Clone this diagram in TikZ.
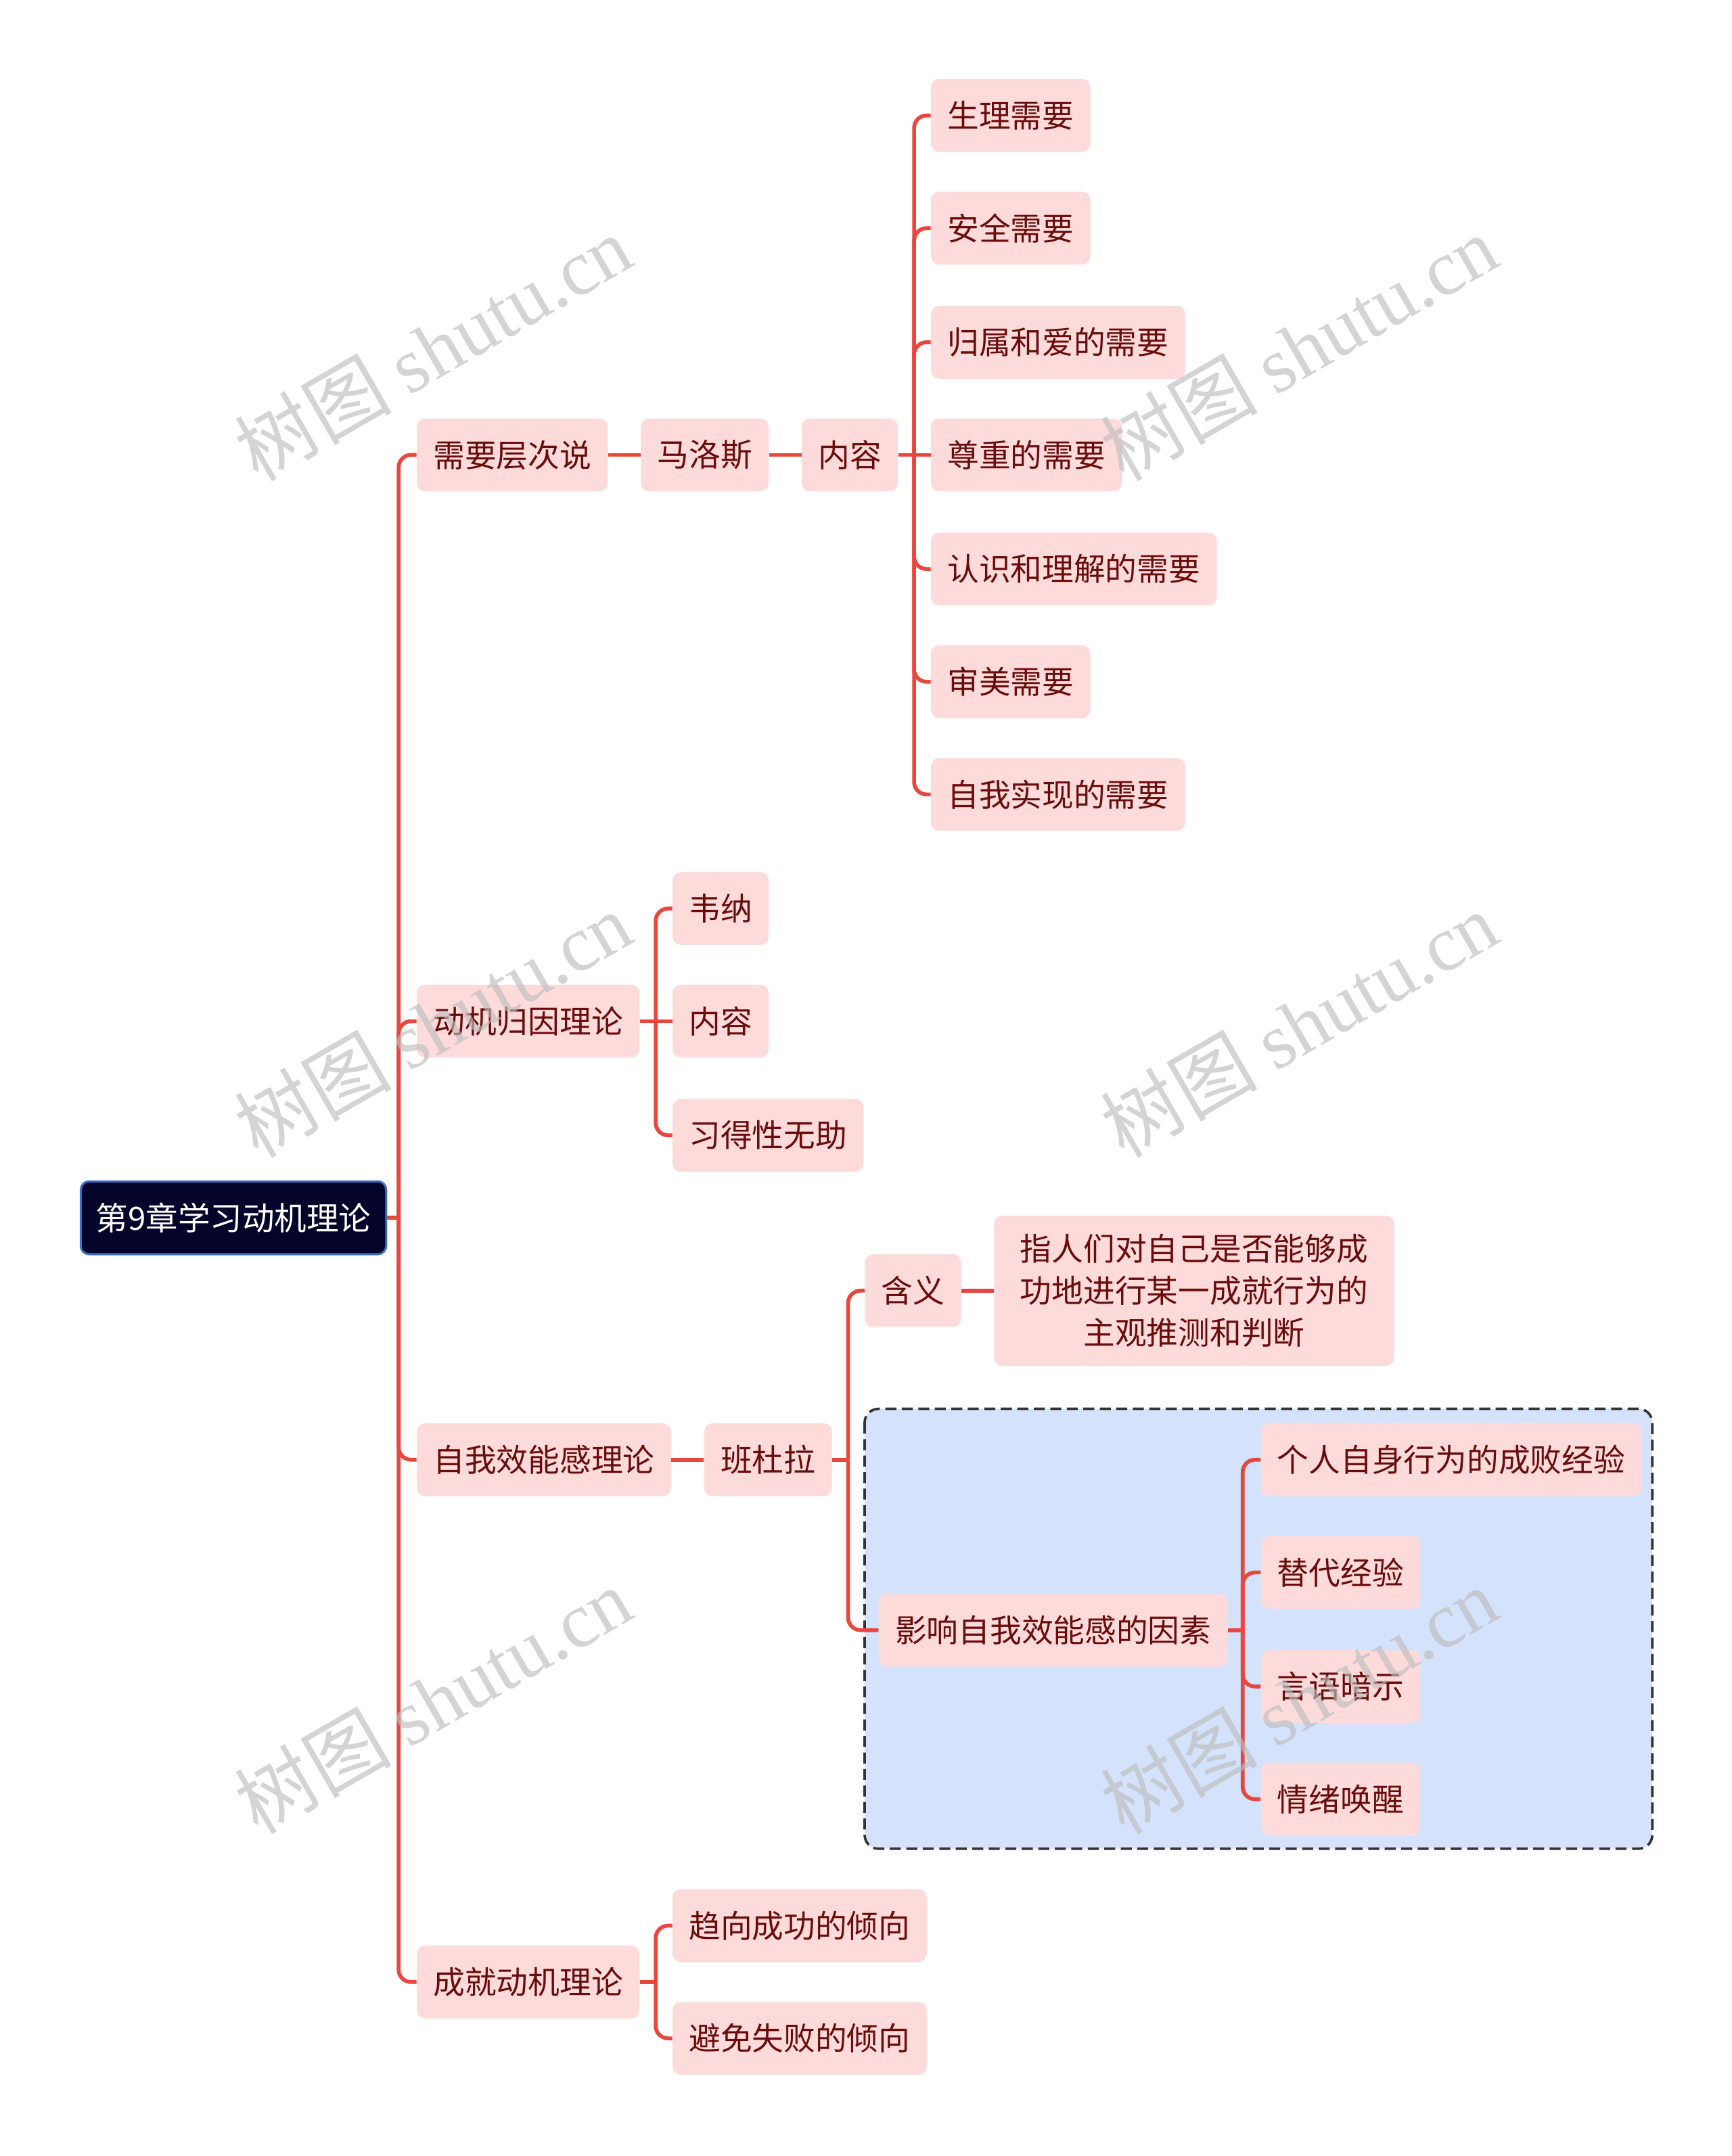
\documentclass[tikz,border=0pt]{standalone}
\usepackage{fontspec}
\setmainfont{Noto Sans CJK SC}
\newfontfamily\wmlatin{Liberation Serif}
\usetikzlibrary{calc}
\definecolor{pinkfill}{HTML}{FDDBDB}
\definecolor{txtred}{HTML}{6A0C0C}
\definecolor{linkred}{HTML}{E8473E}
\definecolor{rootfill}{HTML}{04042A}
\definecolor{rootdraw}{HTML}{3D6FC6}
\definecolor{boxblue}{HTML}{D4E3FB}
\definecolor{boxdraw}{HTML}{333333}
\definecolor{wmgray}{HTML}{BDBDBD}
\tikzset{
  leaf/.style={fill=pinkfill, text=txtred, rounded corners=6pt, minimum height=53pt,
    inner xsep=12pt, inner ysep=0pt, anchor=west, font=\fontsize{23}{27}\selectfont},
  rootnode/.style={fill=rootfill, draw=rootdraw, line width=1.5pt, text=white, rounded corners=6pt,
    minimum height=53pt, inner xsep=11pt, inner ysep=0pt, anchor=west, font=\fontsize{23.4}{28}\selectfont},
  link/.style={draw=linkred, line width=2.8pt},
  elbow/.style={link, rounded corners=9pt},
  groupbox/.style={fill=boxblue, draw=boxdraw, line width=1.8pt, dash pattern=on 8pt off 4pt, rounded corners=10pt},
  wm/.style={text=wmgray, opacity=0.65, rotate=30, font=\fontsize{57}{60}\selectfont}
}
\newcommand{\wmtext}{树图 {\wmlatin shutu.cn}}
\begin{document}
\begin{tikzpicture}[x=1pt,y=-1pt]
\useasboundingbox (0,0) rectangle (1260,1568.6);

% dashed group box
\path[groupbox] (629,1025) rectangle (1202,1345);

% root
\node[rootnode] (root) at (58,886) {第9章学习动机理论};

% level 1
\node[leaf] (a) at (303,331) {需要层次说};
\node[leaf] (b) at (303,743) {动机归因理论};
\node[leaf] (c) at (303,1062) {自我效能感理论};
\node[leaf] (d) at (303,1442) {成就动机理论};

% branch a
\node[leaf] (a1) at (466,331) {马洛斯};
\node[leaf] (a2) at (583,331) {内容};
\node[leaf] (a21) at (677,84) {生理需要};
\node[leaf] (a22) at (677,166) {安全需要};
\node[leaf] (a23) at (677,249) {归属和爱的需要};
\node[leaf] (a24) at (677,331) {尊重的需要};
\node[leaf] (a25) at (677,414) {认识和理解的需要};
\node[leaf] (a26) at (677,496) {审美需要};
\node[leaf] (a27) at (677,578) {自我实现的需要};

% branch b
\node[leaf] (b1) at (489,661) {韦纳};
\node[leaf] (b2) at (489,743) {内容};
\node[leaf] (b3) at (489,826) {习得性无助};

% branch c
\node[leaf] (c1) at (512,1062) {班杜拉};
\node[leaf] (c11) at (629,939) {含义};
\node[leaf, inner xsep=19pt, inner ysep=13.5pt, align=center, font=\fontsize{23}{30.5}\selectfont] (c111) at (723,939) {指人们对自己是否能够成\\功地进行某一成就行为的\\主观推测和判断};
\node[leaf] (c12) at (639,1186) {影响自我效能感的因素};
\node[leaf] (c121) at (917,1062) {个人自身行为的成败经验};
\node[leaf] (c122) at (917,1144) {替代经验};
\node[leaf] (c123) at (917,1227) {言语暗示};
\node[leaf] (c124) at (917,1309) {情绪唤醒};

% branch d
\node[leaf] (d1) at (489,1401) {趋向成功的倾向};
\node[leaf] (d2) at (489,1483) {避免失败的倾向};

% junction coordinates
\coordinate (jr) at (290,886);
\coordinate (ja) at (665,331);
\coordinate (jb) at (477,743);
\coordinate (jc) at (617,1062);
\coordinate (jc2) at (904,1186);
\coordinate (jd) at (477,1442);

% root connectors
\draw[link] (root.east) -- (jr);
\foreach \n in {a,b,c,d} \draw[elbow] (jr) -- (jr |- \n.west) -- (\n.west);

% branch a connectors
\draw[link] (a.east) -- (a1.west);
\draw[link] (a1.east) -- (a2.west);
\draw[link] (a2.east) -- (ja);
\foreach \n in {a21,a22,a23,a25,a26,a27} \draw[elbow] (ja) -- (ja |- \n.west) -- (\n.west);
\draw[link] (ja) -- (a24.west);

% branch b connectors
\draw[link] (b.east) -- (jb);
\foreach \n in {b1,b3} \draw[elbow] (jb) -- (jb |- \n.west) -- (\n.west);
\draw[link] (jb) -- (b2.west);

% branch c connectors
\draw[link] (c.east) -- (c1.west);
\draw[link] (c1.east) -- (jc);
\foreach \n in {c11,c12} \draw[elbow] (jc) -- (jc |- \n.west) -- (\n.west);
\draw[link] (c11.east) -- (c111.west);
\draw[link] (c12.east) -- (jc2);
\foreach \n in {c121,c122,c123,c124} \draw[elbow] (jc2) -- (jc2 |- \n.west) -- (\n.west);

% branch d connectors
\draw[link] (d.east) -- (jd);
\foreach \n in {d1,d2} \draw[elbow] (jd) -- (jd |- \n.west) -- (\n.west);

% watermarks
\node[wm] (w1) at (315,253) {\wmtext};
\node[wm] (w2) at (945,253) {\wmtext};
\node[wm] (w3) at (315,745) {\wmtext};
\node[wm] (w4) at (945,745) {\wmtext};
\node[wm] (w5) at (315,1237) {\wmtext};
\node[wm] (w6) at (945,1237) {\wmtext};
\end{tikzpicture}
\end{document}
